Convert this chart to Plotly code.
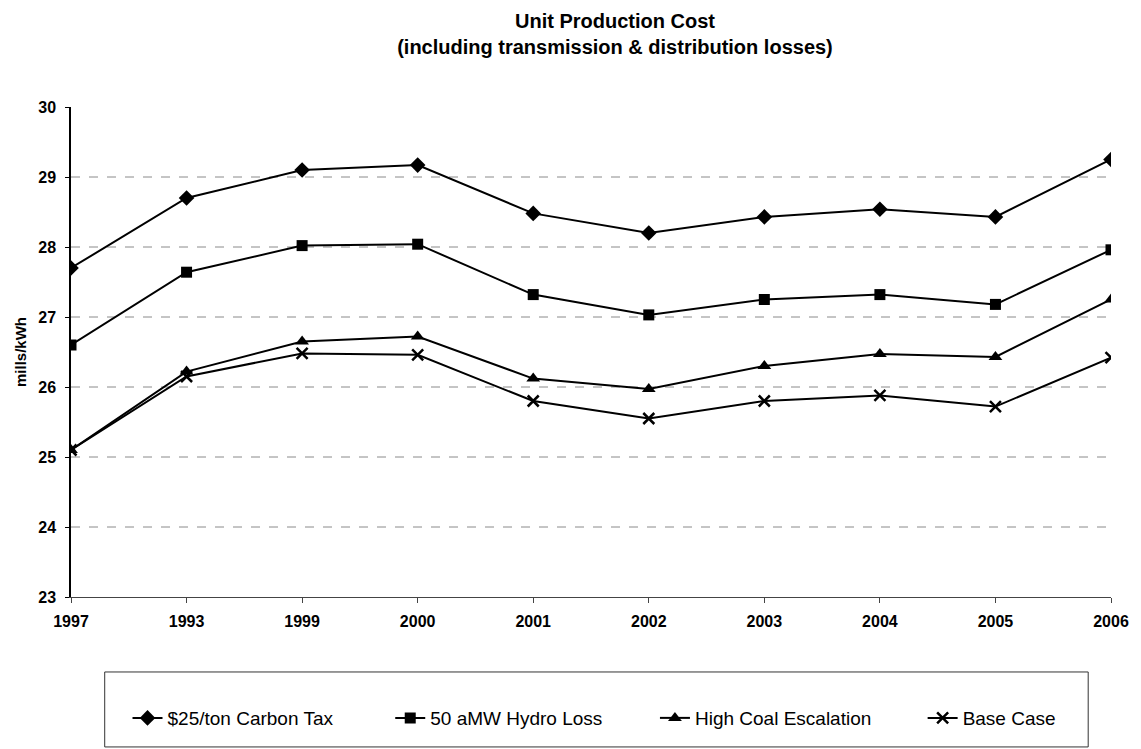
import plotly.graph_objects as go

years = ["1997", "1993", "1999", "2000", "2001", "2002", "2003", "2004", "2005", "2006"]
carbon_tax = [27.7, 28.7, 29.1, 29.17, 28.48, 28.2, 28.43, 28.54, 28.43, 29.25]
hydro_loss = [26.6, 27.64, 28.02, 28.04, 27.32, 27.03, 27.25, 27.32, 27.18, 27.96]
high_coal = [25.1, 26.22, 26.65, 26.72, 26.12, 25.97, 26.3, 26.47, 26.43, 27.25]
base_case = [25.1, 26.15, 26.48, 26.46, 25.8, 25.55, 25.8, 25.88, 25.72, 26.42]
grid_levels = [24, 25, 26, 27, 28, 29]

FONT = "Arial, 'Liberation Sans', sans-serif"

# figure is drawn inside a page whose body has an 8px margin
W, H = 1133, 741
L, R, T, B = 63, 21, 99, 152
PW = W - L - R

series = [
    ("$25/ton Carbon Tax", carbon_tax, "diamond", 12, 0, "legend"),
    ("50 aMW Hydro Loss", hydro_loss, "square", 11, 0, "legend2"),
    ("High Coal Escalation", high_coal, "triangle-up", 12, 0, "legend3"),
    ("Base Case", base_case, "x-thin", 11, 2.5, "legend4"),
]

fig = go.Figure()
for name, vals, sym, size, lw, lg in series:
    fig.add_trace(go.Scatter(
        x=years, y=vals, name=name, mode="lines+markers",
        line=dict(color="black", width=2),
        marker=dict(symbol=sym, size=size, color="black",
                    line=dict(color="black", width=lw)),
        legend=lg,
    ))

shapes = []
for g in grid_levels:
    shapes.append(dict(type="line", xref="paper", yref="y", x0=0, x1=1, y0=g, y1=g,
                       line=dict(color="#8a8a8a", width=1, dash="dash"), layer="below"))
# legend box
shapes.append(dict(type="rect", xref="paper", yref="paper",
                   x0=(97 - L) / PW, x1=(1089 - L) / PW, y0=-0.306, y1=-0.153,
                   line=dict(color="#333333", width=1)))

legend_px = [120, 385, 652, 922]
leg_common = dict(orientation="h", xanchor="left", y=-0.247, yanchor="middle",
                  font=dict(size=19, family=FONT), borderwidth=0,
                  bgcolor="rgba(0,0,0,0)", itemwidth=30)
legends = {}
for i, px in enumerate(legend_px):
    key = "legend" if i == 0 else f"legend{i + 1}"
    legends[key] = dict(x=(px - L) / PW, **leg_common)

fig.update_layout(
    width=W, height=H,
    margin=dict(l=L, r=R, t=T, b=B),
    paper_bgcolor="white", plot_bgcolor="white",
    font=dict(family=FONT, color="black"),
    title=dict(
        text="<b>Unit Production Cost<br>(including transmission & distribution losses)</b>",
        x=607 / W, xanchor="center", xref="container",
        y=1 - 20 / H, yanchor="top", yref="container",
        font=dict(size=20, family=FONT),
    ),
    xaxis=dict(
        type="category", range=[0, 9], showgrid=False,
        showline=True, linecolor="#444444", linewidth=1,
        ticks="outside", ticklen=5, tickcolor="#444444",
        tickfont=dict(size=16, family=FONT, weight="bold"),
        ticklabelstandoff=5,
        zeroline=False,
    ),
    yaxis=dict(
        range=[23, 30], dtick=1, showgrid=False,
        showline=True, linecolor="black", linewidth=1.5,
        ticks="outside", ticklen=4, tickcolor="black",
        tickfont=dict(size=16, family=FONT, weight="bold"),
        ticklabelstandoff=6,
        title=dict(text="<b>mills/kWh</b>", font=dict(size=15, family=FONT), standoff=8),
        zeroline=False,
    ),
    showlegend=True,
    shapes=shapes,
    **legends,
)

fig.write_html("out.html")
